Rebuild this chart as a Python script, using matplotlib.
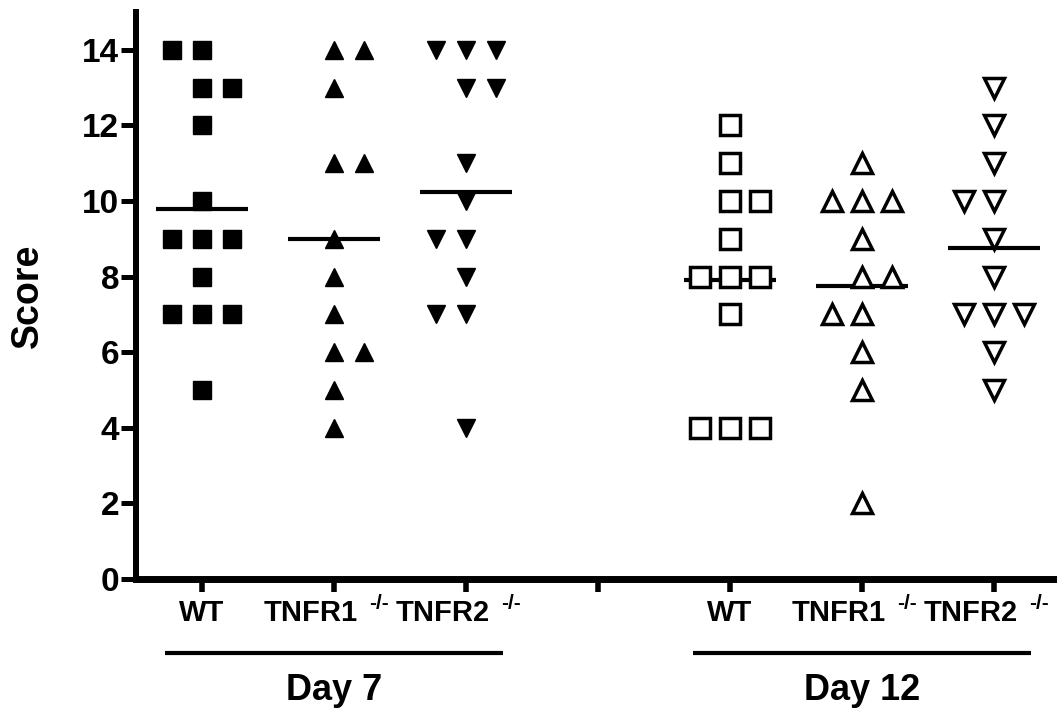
import numpy as np
import matplotlib
matplotlib.use("Agg")
import matplotlib.pyplot as plt
from matplotlib.transforms import blended_transform_factory

plt.rcParams["font.family"] = ["Liberation Sans", "DejaVu Sans"]
plt.rcParams["font.weight"] = "bold"

# scores per animal
wt_d7 = [14, 14, 13, 13, 12, 10, 9, 9, 9, 8, 7, 7, 7, 5]
tnfr1_d7 = [14, 14, 13, 11, 11, 9, 8, 7, 6, 6, 5, 4]
tnfr2_d7 = [14, 14, 14, 13, 13, 11, 10, 9, 9, 8, 7, 7, 4]
wt_d12 = [12, 11, 10, 10, 9, 8, 8, 8, 7, 4, 4, 4]
tnfr1_d12 = [11, 10, 10, 10, 9, 8, 8, 7, 7, 6, 5, 2]
tnfr2_d12 = [13, 12, 11, 10, 10, 9, 8, 7, 7, 7, 6, 5]

groups = [wt_d7, tnfr1_d7, tnfr2_d7, wt_d12, tnfr1_d12, tnfr2_d12]
genotypes = ["WT", "TNFR1", "TNFR2", "WT", "TNFR1", "TNFR2"]
knockout = [False, True, True, False, True, True]
days = ["Day 7", "Day 12"]

positions = [1, 2, 3, 5, 6, 7]
day_centers = [2, 6]
markers = ["s", "^", "v", "s", "^", "v"]
filled = [True, True, True, False, False, False]
# scores where a pair of tied points sits left of the column (default: right)
lean_left = [[14], [], [9, 7], [], [7], [10]]

fig = plt.figure(figsize=(10.57, 7.17), dpi=100)
ax = fig.add_axes([0.1287, 0.1925, 0.8713, 0.7908])
trans = blended_transform_factory(ax.transData, ax.transAxes)

step = 0.227
for pos, vals, m, f, left in zip(positions, groups, markers, filled, lean_left):
    vals = np.array(vals)
    xs, ys = [], []
    for v in sorted(set(vals), reverse=True):
        k = int((vals == v).sum())
        if k == 2:
            offs = [-1, 0] if v in left else [0, 1]
        else:
            offs = np.arange(k) - (k - 1) / 2
        xs += [pos + o * step for o in offs]
        ys += [v] * k
    ax.plot([pos - 0.345, pos + 0.345], [vals.mean()] * 2, color="black",
            lw=3, solid_capstyle="butt", zorder=2)
    if f:
        ax.plot(xs, ys, ls="none", marker=m, ms=13, mfc="black", mec="black",
                mew=1, zorder=3, clip_on=False)
    else:
        ax.plot(xs, ys, ls="none", marker=m, ms=14, mfc="white", mec="black",
                mew=2.5, zorder=3, clip_on=False)

ax.set_xlim(0.5, 7.477)
ax.set_ylim(0, 15)
ax.set_yticks(range(0, 15, 2))
ax.set_xticks(range(1, 8))
ax.set_xticklabels([])
ax.tick_params(axis="y", length=11, width=3.6, pad=1, labelsize=24)
ax.tick_params(axis="x", length=9, width=4)
for s in ["top", "right"]:
    ax.spines[s].set_visible(False)
ax.spines["left"].set_linewidth(4.3)
ax.spines["bottom"].set_linewidth(5)

for pos, name, ko in zip(positions, genotypes, knockout):
    if ko:
        ax.annotate(name, xy=(pos, 0), xycoords=trans, xytext=(24, -20),
                    textcoords="offset pixels", ha="right", va="top", fontsize=21)
        ax.annotate("-/-", xy=(pos, 0), xycoords=trans, xytext=(35, -15),
                    textcoords="offset pixels", ha="left", va="top", fontsize=15)
    else:
        ax.annotate(name, xy=(pos, 0), xycoords=trans, xytext=(0, -20),
                    textcoords="offset pixels", ha="center", va="top", fontsize=21)

for c, d in zip(day_centers, days):
    ax.plot([c - 1.28, c + 1.28], [-0.1305] * 2, transform=trans, color="black",
            lw=3, solid_capstyle="butt", clip_on=False)
    ax.annotate(d, xy=(c, 0), xycoords=trans, xytext=(0, -94),
                textcoords="offset pixels", ha="center", va="top", fontsize=26)

ax.set_ylabel("Score", fontsize=27, fontweight="bold", va="center")
ax.yaxis.set_label_coords(-0.117, 0.5)

fig.savefig("out.png", dpi=100)
